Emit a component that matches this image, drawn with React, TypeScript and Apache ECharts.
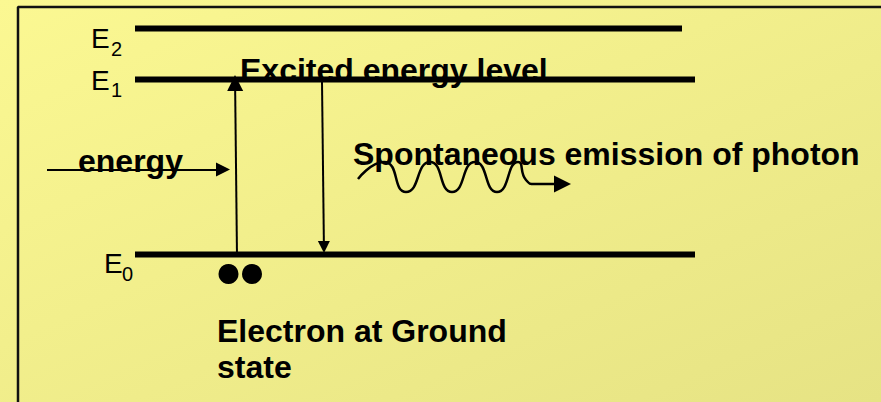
import React, { useEffect, useRef } from 'react';
import * as echarts from 'echarts';

const W = 881;
const H = 402;
const FONT = '"Liberation Sans", Arial, Helvetica, sans-serif';

// energy levels
const LEVEL_LETTER = ['E', 'E', 'E'];
const LEVEL_SUB = ['2', '1', '0'];
const LEVEL_Y = [28.5, 79.5, 254.5];
const LEVEL_X0 = [135, 135, 135];
const LEVEL_X1 = [682, 695, 695];
const LEVEL_LABEL_X = [91, 91, 104];
const LEVEL_LABEL_BASE = [48, 90, 273];
const SUB_X = [111, 111, 122];
const SUB_BASE = [56, 97, 281];

// captions
const CAPTIONS = ['Excited energy level', 'Spontaneous emission of photon', 'energy', 'Electron at Ground', 'state'];
const CAPTION_X = [240, 353, 78, 217, 217];
const CAPTION_BASE = [81, 165, 172, 342, 378];

// electrons at ground state
const ELECTRONS = [[228.5, 274], [252, 274]];

// photon wave
const WAVE = [
  [358, 179], [384, 162], [406, 192], [430, 162], [452, 192],
  [475, 162], [497, 192], [518, 162], [526, 180], [535, 184], [556, 184],
];

// arrows: tail, tip, head [width, length]
const ARROW_TAIL = [[47, 169.5], [237, 256], [322, 82], [548, 184]];
const ARROW_TIP = [[230, 169.5], [235, 75], [324, 253], [571, 184]];
const ARROW_HEAD = [[15, 14], [15, 16], [15, 12], [15, 17]];

// frame
const FRAME = [[18, 402], [18, 7], [881, 7]];

function mid(base: number, size: number) {
  return base - 0.3465 * size;
}

export default function App() {
  const ref = useRef<HTMLDivElement>(null);
  useEffect(() => {
    document.body.style.margin = '0';
    const chart = echarts.init(ref.current!, null, { renderer: 'svg', width: W, height: H });
    const series: any[] = [];

    series.push({
      type: 'line', data: FRAME, symbol: 'none', silent: true, clip: false,
      lineStyle: { color: '#111', width: 2.5 },
    });

    LEVEL_Y.forEach((y, i) => {
      series.push({
        type: 'line', silent: true, symbol: 'none',
        data: [[LEVEL_X0[i], y], [LEVEL_X1[i], y]],
        lineStyle: { color: '#000', width: 6, cap: 'butt' },
      });
    });

    ARROW_TAIL.forEach((tail, i) => {
      const tip = ARROW_TIP[i];
      const [w, l] = ARROW_HEAD[i];
      const dx = tip[0] - tail[0];
      const dy = tip[1] - tail[1];
      const len = Math.sqrt(dx * dx + dy * dy);
      const end = [tip[0] - (dx / len) * (l / 2), tip[1] - (dy / len) * (l / 2)];
      series.push({
        type: 'lines', coordinateSystem: 'cartesian2d', silent: true,
        symbol: ['none', 'triangle'], symbolSize: [w, l],
        lineStyle: { color: '#000', width: 2, opacity: 1, curveness: 0 },
        itemStyle: { color: '#000', opacity: 1 },
        data: [{ coords: [tail, end] }],
      });
    });

    series.push({
      type: 'line', silent: true, symbol: 'none', smooth: 0.6,
      data: WAVE, lineStyle: { color: '#000', width: 2.5 },
    });

    series.push({
      type: 'scatter', silent: true, symbol: 'circle', symbolSize: 20,
      itemStyle: { color: '#000', opacity: 1 }, data: ELECTRONS,
    });

    const textData: any[] = [];
    LEVEL_LETTER.forEach((t, i) => {
      textData.push({
        value: [LEVEL_LABEL_X[i], mid(LEVEL_LABEL_BASE[i], 28)],
        label: { formatter: t, fontSize: 28, fontWeight: 'normal' },
      });
      textData.push({
        value: [SUB_X[i], mid(SUB_BASE[i], 20)],
        label: { formatter: LEVEL_SUB[i], fontSize: 20, fontWeight: 'normal' },
      });
    });
    CAPTIONS.forEach((t, i) => {
      textData.push({
        value: [CAPTION_X[i], mid(CAPTION_BASE[i], 32)],
        label: { formatter: t, fontSize: 32, fontWeight: 'bold' },
      });
    });

    series.push({
      type: 'scatter', silent: true, symbol: 'circle', symbolSize: 1,
      itemStyle: { color: 'rgba(0,0,0,0)', opacity: 1 }, z: 5,
      label: {
        show: true, position: 'inside', align: 'left', verticalAlign: 'middle',
        color: '#000', fontFamily: FONT, opacity: 1,
      },
      data: textData,
    });

    chart.setOption({
      animation: false,
      backgroundColor: 'transparent',
      grid: { left: 0, right: 0, top: 0, bottom: 0, containLabel: false },
      xAxis: { type: 'value', min: 0, max: W, show: false },
      yAxis: { type: 'value', min: 0, max: H, inverse: true, show: false },
      series,
    });
    return () => chart.dispose();
  }, []);
  return (
    <div
      ref={ref}
      style={{
        position: 'fixed', left: 0, top: 0, width: W, height: H,
        background: 'linear-gradient(to bottom right, #FBF892, #E6E384)',
      }}
    />
  );
}
